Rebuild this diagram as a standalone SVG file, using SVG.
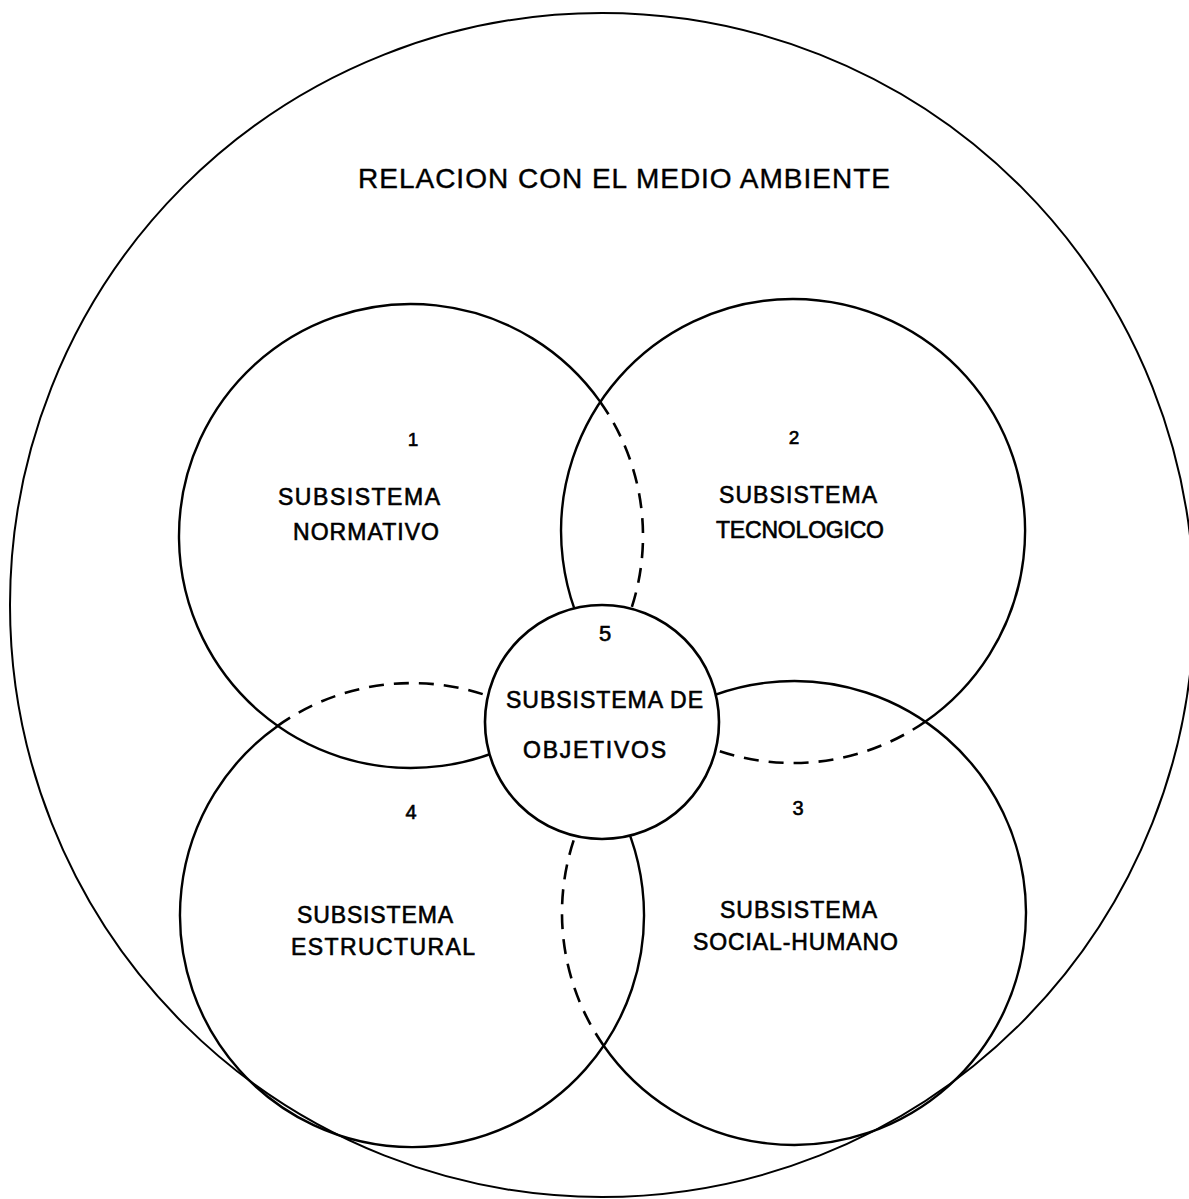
<svg xmlns="http://www.w3.org/2000/svg" width="1189" height="1199" viewBox="0 0 1189 1199">
<style>
.ln{fill:none;stroke:#000;stroke-width:2.4}
.ds{fill:none;stroke:#000;stroke-width:2.6;stroke-dasharray:15 10}
.lb{font-family:"Liberation Sans",Arial,sans-serif;font-size:23px;fill:#000;stroke:#000;stroke-width:0.6}
.nm{font-family:"Liberation Sans",Arial,sans-serif;fill:#000;stroke:#000;stroke-width:0.6;text-anchor:middle}
</style>
<rect width="1189" height="1199" fill="#fff"/>
<g id="medio-ambiente">
<circle cx="602" cy="605" r="592" class="ln" style="stroke-width:2"/>
<text class="lb" x="358" y="188" style="font-size:28px;stroke-width:0.4" textLength="532" lengthAdjust="spacing">RELACION  CON EL MEDIO AMBIENTE</text>
</g>
<g id="sub1">
<path class="ln" d="M603.7 665.2 A232 232 0 1 1 600.3 401.9"/>
<path class="ds" d="M600.3 401.9 A232 232 0 0 1 603.7 665.2"/>
<text class="nm" x="413" y="446" style="font-size:19px">1</text>
<text class="lb" x="278" y="505" textLength="162" lengthAdjust="spacing">SUBSISTEMA</text>
<text class="lb" x="293" y="540" textLength="146" lengthAdjust="spacing">NORMATIVO</text>
</g>
<g id="sub2">
<path class="ln" d="M661.8 722.3 A232 232 0 1 1 925.2 721.7"/>
<path class="ds" d="M925.2 721.7 A232 232 0 0 1 661.8 722.3"/>
<text class="nm" x="794" y="444" style="font-size:19px">2</text>
<text class="lb" x="719" y="503" textLength="158" lengthAdjust="spacing">SUBSISTEMA</text>
<text class="lb" x="716" y="538" textLength="168" lengthAdjust="spacing">TECNOLOGICO</text>
</g>
<g id="sub3">
<path class="ln" d="M602.3 782.3 A232 232 0 1 1 603.7 1045.7"/>
<path class="ds" d="M603.7 1045.7 A232 232 0 0 1 602.3 782.3"/>
<text class="nm" x="798" y="815" style="font-size:20px">3</text>
<text class="lb" x="720" y="918" textLength="157" lengthAdjust="spacing">SUBSISTEMA</text>
<text class="lb" x="693" y="950" textLength="205" lengthAdjust="spacing">SOCIAL-HUMANO</text>
</g>
<g id="sub4">
<path class="ln" d="M545.3 725.2 A232 232 0 1 1 277.7 725.9"/>
<path class="ds" d="M277.7 725.9 A232 232 0 0 1 545.3 725.2"/>
<text class="nm" x="411" y="819" style="font-size:20px">4</text>
<text class="lb" x="297" y="923" textLength="156" lengthAdjust="spacing">SUBSISTEMA</text>
<text class="lb" x="291" y="955" textLength="184" lengthAdjust="spacing">ESTRUCTURAL</text>
</g>
<g id="sub5">
<circle cx="602" cy="722" r="117" fill="#fff" stroke="#000" stroke-width="2.6"/>
<text class="nm" x="605" y="641" style="font-size:22px">5</text>
<text class="lb" x="506" y="708" textLength="197" lengthAdjust="spacing">SUBSISTEMA DE</text>
<text class="lb" x="523" y="758" textLength="143" lengthAdjust="spacing">OBJETIVOS</text>
</g>
<g id="connectors"></g>
</svg>
